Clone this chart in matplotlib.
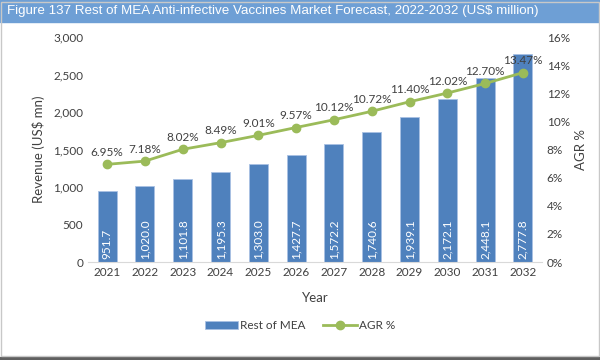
import matplotlib
matplotlib.use("Agg")
import matplotlib.pyplot as plt
from matplotlib.patches import Rectangle

years = ["2021", "2022", "2023", "2024", "2025", "2026", "2027", "2028", "2029", "2030", "2031", "2032"]
revenue = [951.7, 1020.0, 1101.8, 1195.3, 1303.0, 1427.7, 1572.2, 1740.6, 1939.1, 2172.1, 2448.1, 2777.8]
agr = [6.95, 7.18, 8.02, 8.49, 9.01, 9.57, 10.12, 10.72, 11.40, 12.02, 12.70, 13.47]

bar_color = "#4f81bd"
line_color = "#9bbb59"
text_color = "#404040"

plt.rcParams["font.family"] = ["Lato", "DejaVu Sans"]

fig = plt.figure(figsize=(6, 3.6), dpi=100)

# title bar
fig.patches.append(Rectangle((0, 0.938), 1, 0.062, transform=fig.transFigure,
                             color="#6e9fd5", zorder=0))
fig.text(0.012, 0.969, "Figure 137 Rest of MEA Anti-infective Vaccines Market Forecast, 2022-2032 (US$ million)",
         color="white", fontsize=9.6, va="center", ha="left", family=["Liberation Sans", "DejaVu Sans"])
# frame
fig.patches.append(Rectangle((0.001, 0.01), 0.997, 0.985, transform=fig.transFigure,
                             fill=False, edgecolor="#c8c8c8", lw=1))
fig.patches.append(Rectangle((0, 0.0), 1, 0.008, transform=fig.transFigure,
                             color="#606060", zorder=0))

ax = fig.add_axes([0.147, 0.272, 0.756, 0.625])
x = list(range(len(years)))
ax.bar(x, revenue, width=0.5, color=bar_color, edgecolor="#a9c1e3", lw=0.6,
       label="Rest of MEA", zorder=2)
for xi, v in zip(x, revenue):
    ax.text(xi, 35, f"{v:,.1f}", rotation=90, ha="center", va="bottom",
            color="white", fontsize=8.5, zorder=3)

ax.set_ylim(0, 3000)
ax.set_xlim(-0.5, len(years) - 0.5)
ax.set_yticks(range(0, 3001, 500))
ax.set_yticklabels([f"{v:,}" for v in range(0, 3001, 500)])
ax.set_xticks(x)
ax.set_xticklabels(years)
ax.set_ylabel("Revenue (US$ mn)", color=text_color, fontsize=9.5, labelpad=6)
ax.set_xlabel("Year", color=text_color, fontsize=9.5, labelpad=10)
ax.tick_params(colors=text_color, labelsize=8.5, length=0)
for s in ["top", "right", "left"]:
    ax.spines[s].set_visible(False)
ax.spines["bottom"].set_color("#d9d9d9")

ax2 = ax.twinx()
ax2.plot(x, agr, color=line_color, lw=2, marker="o", markersize=6, label="AGR %", zorder=4)
for xi, v in zip(x, agr):
    ax2.text(xi, v + 0.45, f"{v:.2f}%", ha="center", va="bottom", color=text_color, fontsize=8.5)
ax2.set_ylim(0, 16)
ax2.set_yticks(range(0, 17, 2))
ax2.set_yticklabels([f"{v}%" for v in range(0, 17, 2)])
ax2.set_ylabel("AGR %", color=text_color, fontsize=9.5)
ax2.tick_params(colors=text_color, labelsize=8.5, length=0)
for s in ["top", "right", "left", "bottom"]:
    ax2.spines[s].set_visible(False)

h1, l1 = ax.get_legend_handles_labels()
h2, l2 = ax2.get_legend_handles_labels()
fig.legend(h1 + h2, l1 + l2, loc="center", bbox_to_anchor=(0.5, 0.095), ncol=2,
           frameon=False, fontsize=8.5, labelcolor=text_color, handlelength=2.8,
           handletextpad=0.2, columnspacing=1.5)

fig.savefig("out.png", dpi=100)
